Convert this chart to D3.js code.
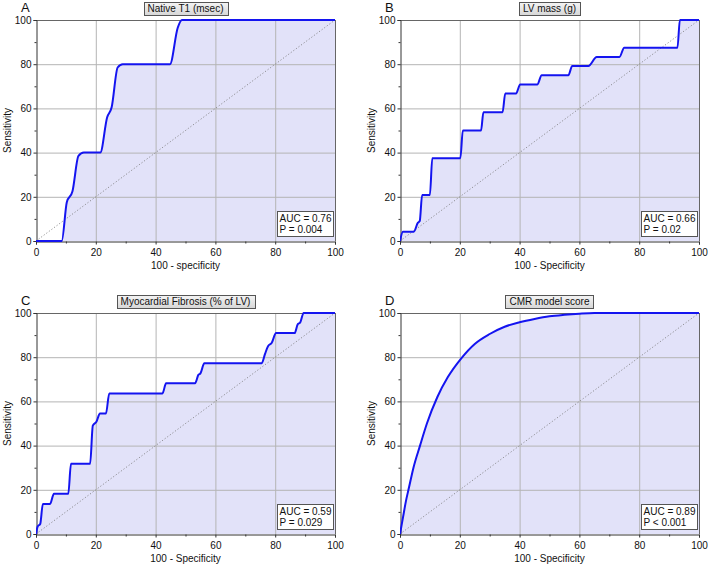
<!DOCTYPE html>
<html><head><meta charset="utf-8">
<script src="https://cdn.jsdelivr.net/npm/d3@7"></script>
<style>body{margin:0;background:#fff}svg{display:block;font-family:"Liberation Sans",Arial,sans-serif}</style>
</head><body><svg id="c" width="708" height="568"></svg>
<script>
const panelLetters = ["A", "B", "C", "D"];
const panelTitles = ["Native T1 (msec)", "LV mass (g)", "Myocardial Fibrosis (% of LV)", "CMR model score"];
const xTitles = ["100 - specificity", "100 - Specificity", "100 - Specificity", "100 - Specificity"];
const yTitle = "Sensitivity";
const aucTexts = ["AUC = 0.76", "AUC = 0.66", "AUC = 0.59", "AUC = 0.89"];
const pTexts = ["P = 0.004", "P = 0.02", "P = 0.029", "P < 0.001"];
const majorTicks = [0, 20, 40, 60, 80, 100];
const minorTicks = [10, 30, 50, 70, 90];
const gridTicks = [20, 40, 60, 80];

// Panel A – Native T1
const fprA  = [0, 8.6, 10.3, 12.2, 14.2, 16.0, 21.5, 23.8, 25.3, 27.3, 29.0, 44.8, 47.4, 48.8, 100];
const sensA = [0, 0,   17.5, 22.5, 38.5, 40,   40,   56,   60.5, 78.5, 80,   80,   96.5, 100,  100];
// Panel B – LV mass
const fprB  = [0, 1.0, 4.6, 6.0, 6.6, 7.4,  10.0, 10.8, 20.2, 21.0, 27.1, 27.9, 34.3, 35.2, 38.8, 40.2, 45.9, 47.4, 56.3, 57.6, 63.0, 65.8, 73.4, 75.0, 92.8, 93.6, 100];
const sensB = [0, 4.2, 4.2, 8.3, 9.0, 20.8, 20.8, 37.5, 37.5, 50,   50,   58.3, 58.3, 66.7, 66.7, 70.8, 70.8, 75,   75,   79.2, 79.2, 83.3, 83.3, 87.5, 87.5, 100,  100];
// Panel C – Myocardial fibrosis
const fprC  = [0, 0.6, 1.4, 2.3,  4.7,  6.0,  10.8, 11.7, 18.1, 19.0, 20.2, 21.4, 23.4, 24.5, 42.3, 43.5, 53.2, 54.3, 55.0, 56.3, 75.5, 76.6, 77.6, 78.8, 80.3, 86.5, 87.5, 88.4, 89.5, 100];
const sensC = [0, 3.5, 4.5, 13.6, 13.6, 18.2, 18.2, 31.8, 31.8, 49.0, 50.8, 54.5, 54.5, 63.6, 63.6, 68.2, 68.2, 72.0, 72.7, 77.3, 77.3, 81.5, 85.0, 86.4, 90.9, 90.9, 94.8, 95.8, 100,  100];
// Panel D – CMR model score
const fprD  = [0, 1,   2,  3,  4.5, 6.7, 9,  12.5, 16, 20.5, 25, 30,   35,   40,   45,   50,   55,   60,   65,  100];
const sensD = [0, 7.5, 15, 21, 30,  40,  50, 62,   71, 79.5, 86, 90.5, 93.8, 95.8, 97.3, 98.5, 99.2, 99.7, 100, 100];

const fprs = [fprA, fprB, fprC, fprD];
const senss = [sensA, sensB, sensC, sensD];
const layout = [
  {l: 36, r: 335, t: 20, b: 241},
  {l: 400, r: 699, t: 20, b: 241},
  {l: 36, r: 335, t: 313, b: 534},
  {l: 400, r: 699, t: 313, b: 534}
];

const svg = d3.select("#c");
svg.append("rect").attr("width", 708).attr("height", 568).attr("fill", "#fff");
const defs = svg.append("defs");
const grad = defs.append("linearGradient").attr("id", "tg").attr("x1", 0).attr("y1", 0).attr("x2", 0).attr("y2", 1);
grad.append("stop").attr("offset", "0%").attr("stop-color", "#f4f4f4");
grad.append("stop").attr("offset", "100%").attr("stop-color", "#d6d6d6");

layout.forEach((L, i) => {
  const x = d3.scaleLinear().domain([0, 100]).range([L.l, L.r]);
  const y = d3.scaleLinear().domain([0, 100]).range([L.b, L.t]);
  const g = svg.append("g");
  defs.append("clipPath").attr("id", "clip" + i).append("rect")
    .attr("x", L.l).attr("y", L.t - 2).attr("width", L.r - L.l + 1).attr("height", L.b - L.t + 3);

  const pts = fprs[i].map((f, k) => [f, senss[i][k]]);
  // fill under curve
  g.append("path").datum(pts)
    .attr("d", d3.area().x(d => x(d[0])).y0(y(0)).y1(d => y(d[1])).curve(d3.curveMonotoneX))
    .attr("fill", "#e2e2f9");

  // grid
  g.selectAll(".gx").data(gridTicks).enter().append("line")
    .attr("x1", d => x(d) + 0.5).attr("x2", d => x(d) + 0.5).attr("y1", L.t).attr("y2", L.b)
    .attr("stroke", "#b4b4b4").attr("stroke-width", 1);
  g.selectAll(".gy").data(gridTicks).enter().append("line")
    .attr("y1", d => y(d) + 0.5).attr("y2", d => y(d) + 0.5).attr("x1", L.l).attr("x2", L.r)
    .attr("stroke", "#b4b4b4").attr("stroke-width", 1);

  // frame top/right
  g.append("line").attr("x1", L.l).attr("x2", L.r + 0.5).attr("y1", L.t + 0.5).attr("y2", L.t + 0.5).attr("stroke", "#666");
  g.append("line").attr("x1", L.r + 0.5).attr("x2", L.r + 0.5).attr("y1", L.t).attr("y2", L.b).attr("stroke", "#666");

  // diagonal
  g.append("line").attr("x1", x(0)).attr("y1", y(0)).attr("x2", x(100)).attr("y2", y(100))
    .attr("stroke", "#777").attr("stroke-width", 0.8).attr("stroke-dasharray", "1.2,2");

  // axes
  const ax = g.append("g").attr("transform", `translate(0,${L.b + 0.5})`)
    .call(d3.axisBottom(x).tickValues(majorTicks).tickSize(3).tickPadding(4).tickFormat(d3.format("d")));
  g.append("g").attr("transform", `translate(0,${L.b + 0.5})`)
    .call(d3.axisBottom(x).tickValues(minorTicks).tickSize(2).tickFormat(""))
    .call(s => s.select(".domain").remove());
  const ay = g.append("g").attr("transform", `translate(${L.l + 0.5},0)`)
    .call(d3.axisLeft(y).tickValues(majorTicks).tickSize(3).tickPadding(2).tickFormat(d3.format("d")));
  g.append("g").attr("transform", `translate(${L.l + 0.5},0)`)
    .call(d3.axisLeft(y).tickValues(minorTicks).tickSize(2).tickFormat(""))
    .call(s => s.select(".domain").remove());
  g.selectAll(".domain").attr("stroke", "#333");
  g.selectAll(".tick line").attr("stroke", "#333");
  g.selectAll(".tick text").attr("font-size", 10).attr("fill", "#111")
    .attr("font-family", "'Liberation Sans', Arial, sans-serif");

  // curve
  g.append("path").datum(pts)
    .attr("clip-path", `url(#clip${i})`)
    .attr("d", d3.line().x(d => x(d[0])).y(d => y(d[1])).curve(d3.curveMonotoneX))
    .attr("fill", "none").attr("stroke", "#1414f0").attr("stroke-width", 2);

  // axis titles
  g.append("text").attr("x", (L.l + L.r) / 2).attr("y", L.b + 28).attr("text-anchor", "middle")
    .attr("font-size", 10).attr("fill", "#111").text(xTitles[i]);
  g.append("text").attr("transform", `translate(${L.l - 25.5},${(L.t + L.b) / 2}) rotate(-90)`)
    .attr("text-anchor", "middle").attr("font-size", 10).attr("fill", "#111").text(yTitle);

  // panel letter
  g.append("text").attr("x", L.l - 15).attr("y", L.t - 8).attr("font-size", 13).attr("fill", "#111")
    .text(panelLetters[i]);

  // title box
  const tt = g.append("text").attr("x", (L.l + L.r) / 2).attr("y", L.t - 8.5).attr("text-anchor", "middle")
    .attr("font-size", 10).attr("fill", "#111").text(panelTitles[i]);
  const bb = tt.node().getBBox();
  g.insert("rect", () => tt.node())
    .attr("x", Math.round(bb.x - 4) + 0.5).attr("y", L.t - 17.5)
    .attr("width", Math.round(bb.width + 8)).attr("height", 13)
    .attr("fill", "url(#tg)").attr("stroke", "#555").attr("stroke-width", 1);

  // AUC box
  const bx = g.append("g");
  const t1 = bx.append("text").attr("font-size", 10).attr("fill", "#111").text(aucTexts[i]);
  const t2 = bx.append("text").attr("font-size", 10).attr("fill", "#111").text(pTexts[i]);
  const w = Math.max(t1.node().getComputedTextLength(), t2.node().getComputedTextLength()) + 4;
  const bxR = L.r - 2, bxB = L.b - 5, bxH = 25;
  const bxL = bxR - w;
  bx.insert("rect", "text").attr("x", Math.round(bxL) + 0.5).attr("y", bxB - bxH + 0.5)
    .attr("width", Math.round(w)).attr("height", bxH)
    .attr("fill", "#fff").attr("stroke", "#555");
  t1.attr("x", Math.round(bxL) + 2.5).attr("y", bxB - bxH + 10.5);
  t2.attr("x", Math.round(bxL) + 2.5).attr("y", bxB - bxH + 21.5);
});
</script></body></html>
